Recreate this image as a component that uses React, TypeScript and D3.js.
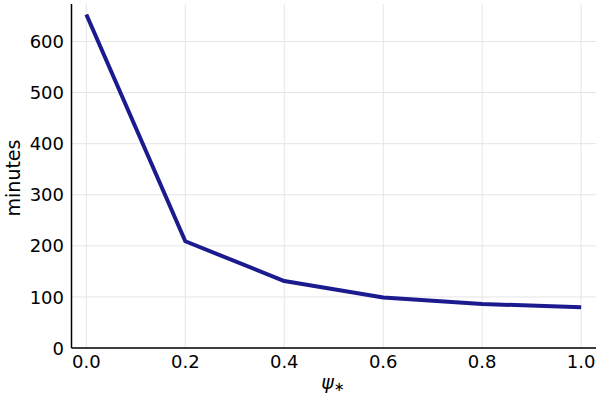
import React from "react";
import * as d3 from "d3";

const psiValues = [0.0, 0.2, 0.4, 0.6, 0.8, 1.0];
const minutesValues = [653, 209, 131, 99, 86, 80];
const xTicks = [0.0, 0.2, 0.4, 0.6, 0.8, 1.0];
const yTicks = [0, 100, 200, 300, 400, 500, 600];

export default function App() {
  const W = 600, H = 400;
  const left = 71.5, right = 596, top = 4, bottom = 348;
  const xs = d3.scaleLinear().domain([-0.03, 1.03]).range([left, right]);
  const ys = d3.scaleLinear().domain([0, 673.5]).range([bottom, top]);
  const line = d3.line<number>().x((_, i) => xs(psiValues[i])).y((d) => ys(d));
  const font = "DejaVu Sans, sans-serif";
  return (
    <svg width={W} height={H} style={{ position: "absolute", left: 0, top: 0 }} fontFamily={font}>
      <rect width={W} height={H} fill="white" />
      {xTicks.map((t) => (
        <line key={"gx" + t} x1={xs(t)} x2={xs(t)} y1={top} y2={bottom} stroke="#e5e5e5" strokeWidth={1} />
      ))}
      {yTicks.map((t) => (
        <line key={"gy" + t} x1={left} x2={right} y1={ys(t)} y2={ys(t)} stroke="#e5e5e5" strokeWidth={1} />
      ))}
      <path d={line(minutesValues) || ""} fill="none" stroke="#1b1b8f" strokeWidth={4} strokeLinejoin="round" />
      <line x1={left} x2={left} y1={top} y2={bottom} stroke="black" strokeWidth={1.5} />
      <line x1={left} x2={right} y1={bottom} y2={bottom} stroke="black" strokeWidth={1.5} />
      {xTicks.map((t) => (
        <text key={"tx" + t} x={xs(t)} y={367.5} textAnchor="middle" fontSize={18} fill="black">
          {t.toFixed(1)}
        </text>
      ))}
      {yTicks.map((t) => (
        <text key={"ty" + t} x={64} y={ys(t) + 6.6} textAnchor="end" fontSize={18} fill="black">
          {t}
        </text>
      ))}
      <text transform={`translate(19.5,178) rotate(-90)`} textAnchor="middle" fontSize={19} fill="black">
        minutes
      </text>
      <text x={333} y={389} textAnchor="middle" fontSize={19} fill="black">
        <tspan fontStyle="italic">ψ</tspan>
        <tspan fontSize={13} dy={2}>∗</tspan>
      </text>
    </svg>
  );
}
